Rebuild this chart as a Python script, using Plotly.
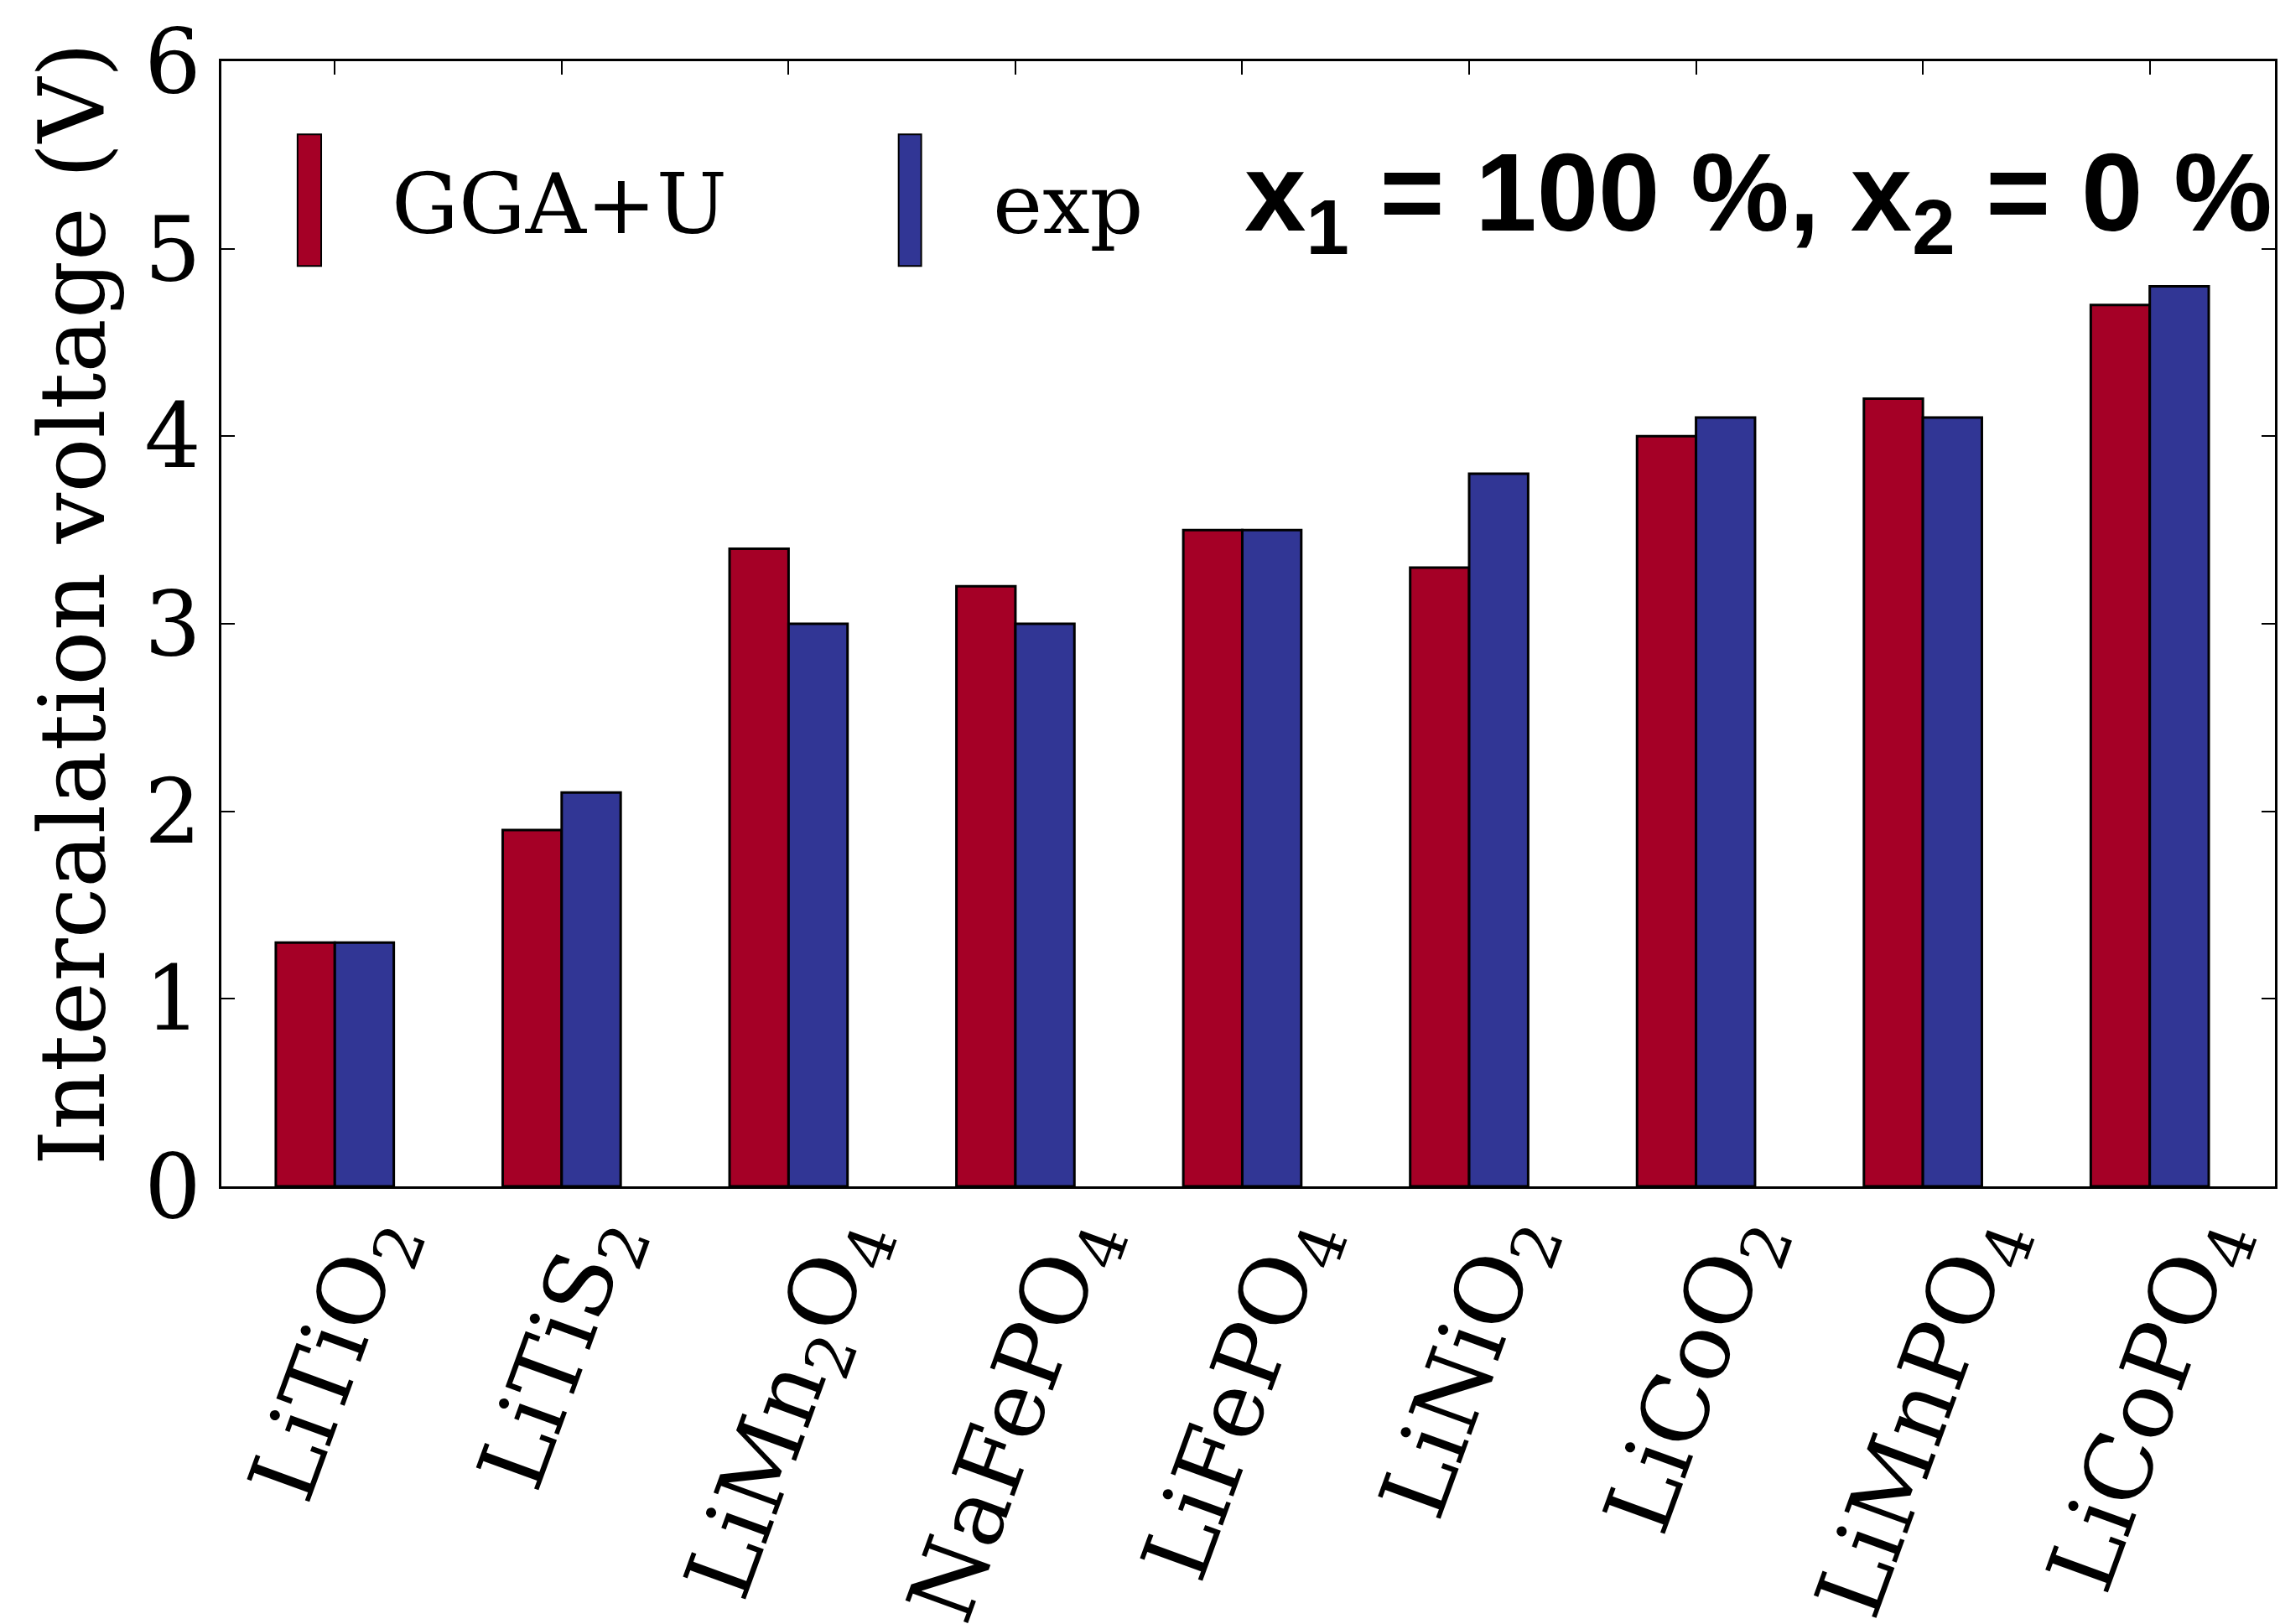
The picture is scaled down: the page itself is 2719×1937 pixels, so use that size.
import plotly.graph_objects as go

# Compounds and intercalation voltages (V)
materials = [
    "LiTiO<sub>2</sub>", "LiTiS<sub>2</sub>", "LiMn<sub>2</sub>O<sub>4</sub>",
    "NaFePO<sub>4</sub>", "LiFePO<sub>4</sub>", "LiNiO<sub>2</sub>",
    "LiCoO<sub>2</sub>", "LiMnPO<sub>4</sub>", "LiCoPO<sub>4</sub>",
]
gga_u = [1.3, 1.9, 3.4, 3.2, 3.5, 3.3, 4.0, 4.2, 4.7]
experiment = [1.3, 2.1, 3.0, 3.0, 3.5, 3.8, 4.1, 4.1, 4.8]
y_ticks = [0, 1, 2, 3, 4, 5, 6]

RED = "#a50026"
BLUE = "#313695"
SERIF = "DejaVu Serif"

fig = go.Figure()
fig.add_trace(go.Bar(x=materials, y=gga_u, name="GGA+U",
                     marker=dict(color=RED, line=dict(color="black", width=3))))
fig.add_trace(go.Bar(x=materials, y=experiment, name="exp",
                     marker=dict(color=BLUE, line=dict(color="black", width=3))))

# Rotated compound labels, centred under each group
for m in materials:
    fig.add_annotation(x=m, y=-0.010, xref="x", yref="paper", text=m,
                       textangle=-70, showarrow=False, xanchor="center", yanchor="top",
                       font=dict(family=SERIF, size=109, color="black"))

# Vertical axis label
fig.add_annotation(x=-0.0725, y=0.518, xref="paper", yref="paper",
                   text="Intercalation voltage (V)", textangle=-90, showarrow=False,
                   xanchor="center", yanchor="middle",
                   font=dict(family=SERIF, size=108, color="black"))

# Legend drawn as tall swatches with serif labels
for x0, x1, col, label, lx in [(0.0371, 0.0486, RED, "GGA+U", 0.082),
                               (0.3298, 0.3408, BLUE, "exp", 0.375)]:
    fig.add_shape(type="rect", xref="paper", yref="paper", x0=x0, x1=x1, y0=0.818, y1=0.935,
                  fillcolor=col, line=dict(color="black", width=2))
    fig.add_annotation(x=lx, y=0.873, xref="paper", yref="paper", text=label, showarrow=False,
                       xanchor="left", yanchor="middle",
                       font=dict(family=SERIF, size=100, color="black"))

fig.add_annotation(x=0.4975, y=0.876, xref="paper", yref="paper",
                   text="x<sub>1</sub> = 100 %, x<sub>2</sub> = 0 %", showarrow=False,
                   xanchor="left", yanchor="middle",
                   font=dict(family="Liberation Sans", size=132, color="black", weight="bold"))

fig.update_layout(
    width=2719, height=1937,
    margin=dict(l=264, r=3, t=73, b=522),
    paper_bgcolor="white", plot_bgcolor="white",
    barmode="group", bargap=0.48, bargroupgap=0,
    showlegend=False,
    font=dict(family=SERIF, color="black"),
)
fig.update_xaxes(showline=True, linecolor="black", linewidth=3, mirror="ticks",
                 ticks="inside", ticklen=16, tickwidth=2, tickcolor="black",
                 showticklabels=False, showgrid=False)
fig.update_yaxes(range=[0, 6], tickvals=y_ticks, showline=True, linecolor="black", linewidth=3,
                 mirror="ticks", ticks="inside", ticklen=16, tickwidth=2, tickcolor="black",
                 showgrid=False, zeroline=False,
                 tickfont=dict(family=SERIF, size=106, color="black"))

fig.write_html("out.html")
